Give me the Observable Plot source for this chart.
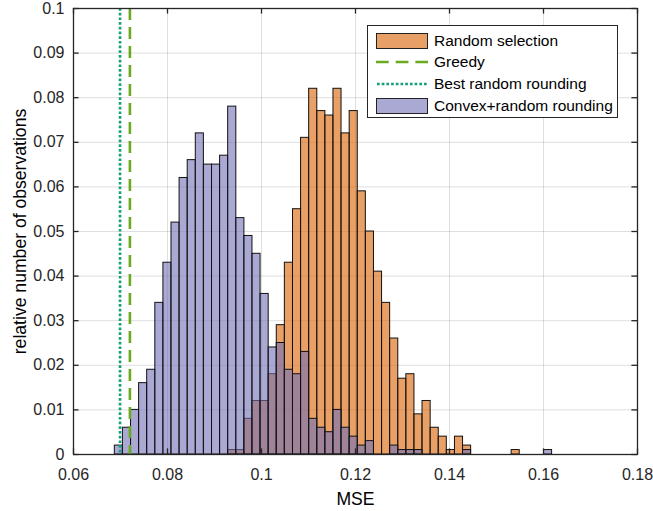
<!DOCTYPE html>
<html><head><meta charset="utf-8">
<script src="https://cdn.jsdelivr.net/npm/d3@7"></script>
<script src="https://cdn.jsdelivr.net/npm/@observablehq/plot@0.6"></script>
<style>
body{margin:0;background:#fff;font-family:"Liberation Sans",Arial,Helvetica,sans-serif;}
#wrap{position:relative;width:653px;height:511px;}
#legend{position:absolute;left:367px;top:25px;width:249px;height:91px;border:1.5px solid #262626;background:#fff;font-size:15.5px;color:#000;}
.row{position:absolute;left:0;height:22px;display:flex;align-items:center;white-space:nowrap;}
.sw{width:52px;height:16px;margin-left:8px;margin-right:6px;box-sizing:border-box;display:block;}
g[aria-label="x-axis label"], g[aria-label="y-axis label"]{font-size:17.6px;fill:#000;}
</style></head>
<body><div id="wrap"><div id="chart"></div><div id="legend"></div></div>
<script>
// Bin edges of the histograms (MSE)
const binEdges = [
  0.06879,0.07051,0.07224,0.07396,0.07568,0.07741,0.07913,0.08085,0.08257,0.08430,
  0.08602,0.08774,0.08947,0.09119,0.09291,0.09464,0.09636,0.09808,0.09980,0.10153,
  0.10325,0.10497,0.10670,0.10842,0.11014,0.11187,0.11359,0.11531,0.11703,0.11876,
  0.12048,0.12220,0.12393,0.12565,0.12737,0.12910,0.13082,0.13254,0.13426,0.13599,
  0.13771,0.13943,0.14116,0.14288,0.14460,0.14633,0.14805,0.14977,0.15150,0.15322,
  0.15494,0.15666,0.15839,0.16011,0.16183
];
// relative number of observations per bin
const randomSelection = [
  0,0,0,0,0,0,0,0,0,0,
  0,0,0,0,0.001,0.001,0.008,0.012,0.012,0.018,
  0.029,0.043,0.055,0.071,0.082,0.077,0.076,0.082,0.072,0.077,
  0.059,0.050,0.041,0.034,0.026,0.017,0.018,0.009,0.012,0.006,
  0.004,0.001,0.004,0.002,0,0,0,0,0,0.001,
  0,0,0,0
];
const convexRandomRounding = [
  0.002,0.006,0.010,0.016,0.019,0.034,0.043,0.052,0.062,0.066,
  0.072,0.065,0.065,0.067,0.078,0.053,0.049,0.045,0.036,0.024,
  0.025,0.019,0.018,0.023,0.008,0.006,0.005,0.010,0.006,0.004,
  0.002,0.003,0,0,0.002,0.001,0.001,0.001,0,0,
  0,0,0,0.001,0,0,0,0,0,0,
  0,0,0,0.001
];
const greedyMSE = 0.0720;
const bestRandomRoundingMSE = 0.0699;
const xTicks = [0.06,0.08,0.1,0.12,0.14,0.16,0.18];
const yTicks = [0,0.01,0.02,0.03,0.04,0.05,0.06,0.07,0.08,0.09,0.1];
const seriesNames = ["Random selection","Greedy","Best random rounding","Convex+random rounding"];

const bins = binEdges.slice(0,-1).map((x1,i)=>({x1, x2:binEdges[i+1], rs:randomSelection[i], cv:convexRandomRounding[i]}));

const W=653,H=511,mL=73,mR=16,mT=8,mB=57;
const ph=H-mT-mB, pw=W-mL-mR, tl=5.6;
const axisCol="#262626";
const orangeFill="rgb(218,97,0)", blueFill="rgb(112,112,183)";
const greedyCol="#6AAA1E", bestCol="#16A079";

const chart = Plot.plot({
  width:W,height:H,marginLeft:mL,marginRight:mR,marginTop:mT,marginBottom:mB,
  style:{fontFamily:'"Liberation Sans",Arial,Helvetica,sans-serif',fontSize:"16px",color:axisCol,background:"#fff",overflow:"visible"},
  x:{domain:[0.06,0.18]},
  y:{domain:[0,0.1]},
  marks:[
    Plot.gridX(xTicks,{stroke:axisCol,strokeOpacity:0.15,strokeWidth:1}),
    Plot.gridY(yTicks,{stroke:axisCol,strokeOpacity:0.15,strokeWidth:1}),
    Plot.rectY(bins,{x1:"x1",x2:"x2",y:"rs",fill:orangeFill,fillOpacity:0.6,stroke:"#111",strokeWidth:1}),
    Plot.rectY(bins,{x1:"x1",x2:"x2",y:"cv",fill:blueFill,fillOpacity:0.6,stroke:"#111",strokeWidth:1}),
    Plot.ruleX([greedyMSE],{stroke:greedyCol,strokeWidth:2.6,strokeDasharray:"12,7"}),
    Plot.ruleX([bestRandomRoundingMSE],{stroke:bestCol,strokeWidth:2.6,strokeDasharray:"2.7,2"}),
    Plot.frame({stroke:axisCol,strokeWidth:1.3}),
    Plot.ruleX(xTicks,{insetTop:ph-tl,stroke:axisCol,strokeWidth:1.3}),
    Plot.ruleX(xTicks,{insetBottom:ph-tl,stroke:axisCol,strokeWidth:1.3}),
    Plot.ruleY(yTicks,{insetRight:pw-tl,stroke:axisCol,strokeWidth:1.3}),
    Plot.ruleY(yTicks,{insetLeft:pw-tl,stroke:axisCol,strokeWidth:1.3}),
    Plot.axisX(xTicks,{tickSize:0,tickPadding:14,tickFormat:d=>String(d),label:"MSE",labelAnchor:"center",labelArrow:"none",labelOffset:50}),
    Plot.axisY(yTicks,{tickSize:0,tickPadding:9,tickFormat:d=>String(d),label:"relative number of observations",labelAnchor:"center",labelArrow:"none",labelOffset:60})
  ]
});
document.getElementById("chart").appendChild(chart);

// legend
const legend=document.getElementById("legend");
const swatches=[
  `<div class="sw" style="background:rgb(233,160,102);border:1.2px solid #222"></div>`,
  `<svg class="sw" viewBox="0 0 52 16"><line x1="0" x2="52" y1="8" y2="8" stroke="${greedyCol}" stroke-width="2.6" stroke-dasharray="12.7,7"/></svg>`,
  `<svg class="sw" viewBox="0 0 52 16"><line x1="1" x2="52" y1="8" y2="8" stroke="${bestCol}" stroke-width="2.6" stroke-dasharray="2.7,2"/></svg>`,
  `<div class="sw" style="background:rgb(169,169,212);border:1.2px solid #222"></div>`
];
seriesNames.forEach((n,i)=>{
  const r=document.createElement("div");
  r.className="row";
  r.style.top=(3.5+i*21.7)+"px";
  r.innerHTML=swatches[i]+`<span>${n}</span>`;
  legend.appendChild(r);
});
</script>
</body></html>
